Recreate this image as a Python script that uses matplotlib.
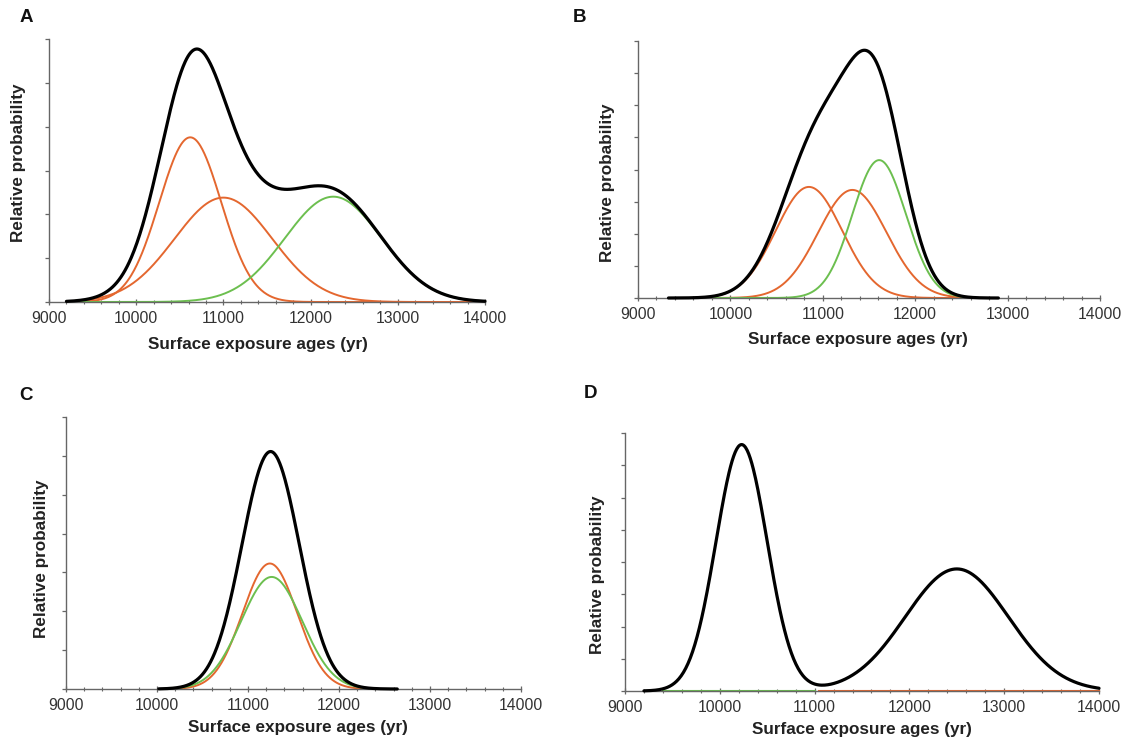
import numpy as np
import matplotlib.pyplot as plt
from matplotlib.ticker import MultipleLocator

plt.rcParams['font.family'] = ['Liberation Sans', 'DejaVu Sans']

# Exposure ages (yr) and 1-sigma errors
a_orange_age = [10620, 11000]
a_orange_err = [355, 560]
a_green_age = [12260]
a_green_err = [555]

b_orange_age = [10850, 11320]
b_orange_err = [360, 370]
b_green_age = [11610]
b_green_err = [290]

c_orange_age = [11240]
c_orange_err = [300]
c_green_age = [11260]
c_green_err = [336]

d_black_age = [10230, 12500]
d_black_err = [270, 545]
d_green_span = [9400, 11000]
d_orange_span = [11050, 14000]

# x ranges over which the curves are drawn
black_span = {'A': [9200, 14000], 'B': [9330, 12900], 'C': [10020, 12640], 'D': [9200, 14000]}
comp_span = {'A': [9300, 14000], 'B': [9800, 12600], 'C': [10150, 12300]}

# height of the black peak as a fraction of the y axis, and number of y tick intervals
peak_frac = {'A': 0.962, 'B': 0.964, 'C': 0.873, 'D': 0.955}
n_yint = {'A': 6, 'B': 8, 'C': 7, 'D': 8}

ORANGE = '#E4672F'
GREEN = '#6CBF4F'
AXC = '#666666'

W, H = 1136, 748
# axes boxes in pixels: left, top, right, bottom
box = {'A': (49, 39, 485, 302), 'B': (638, 41, 1100, 298),
       'C': (66, 417, 521, 689), 'D': (625, 433, 1099, 691)}
letter_xy = {'A': (26, 17), 'B': (580, 18), 'C': (26, 395), 'D': (591, 393)}
ylab_xy = {'A': (-0.071, 0.53), 'B': (-0.067, 0.45), 'C': (-0.053, 0.48), 'D': (-0.059, 0.45)}
xlab_xy = {'A': (0.48, -0.16), 'B': (0.476, -0.163), 'C': (0.51, -0.143), 'D': (0.50, -0.151)}


def gauss(x, mu, s):
    return np.exp(-0.5 * ((x - mu) / s) ** 2) / (s * np.sqrt(2 * np.pi))


def pdfs(x, ages, errs):
    return [gauss(x, m, s) for m, s in zip(ages, errs)]


fig = plt.figure(figsize=(W / 100, H / 100), dpi=100)

panels = {
    'A': (a_orange_age, a_orange_err, a_green_age, a_green_err),
    'B': (b_orange_age, b_orange_err, b_green_age, b_green_err),
    'C': (c_orange_age, c_orange_err, c_green_age, c_green_err),
    'D': None,
}

for key, data in panels.items():
    l, t, r, b = box[key]
    ax = fig.add_axes([l / W, 1 - b / H, (r - l) / W, (b - t) / H])

    xb = np.linspace(*black_span[key], 600)
    if data is not None:
        oa, oe, ga, ge = data
        xc = np.linspace(*comp_span[key], 600)
        for y in pdfs(xc, oa, oe):
            ax.plot(xc, y, color=ORANGE, lw=1.4, clip_on=False, zorder=2)
        for y in pdfs(xc, ga, ge):
            ax.plot(xc, y, color=GREEN, lw=1.4, clip_on=False, zorder=2)
        total = np.sum(pdfs(xb, oa + ga, oe + ge), axis=0)
    else:
        # in D the component curves lie flat on the baseline
        ax.plot(d_green_span, [0, 0], color=GREEN, lw=1.5, clip_on=False, zorder=2)
        ax.plot(d_orange_span, [0, 0], color=ORANGE, lw=1.5, clip_on=False, zorder=2)
        total = np.sum(pdfs(xb, d_black_age, d_black_err), axis=0)

    ax.plot(xb, total, color='black', lw=2.3, clip_on=False, zorder=3,
            solid_capstyle='round')

    top = total.max() / peak_frac[key]
    ax.set_ylim(0, top)
    ax.set_yticks(np.linspace(0, top, n_yint[key] + 1))
    ax.set_yticklabels([])
    ax.set_xlim(9000, 14000)
    ax.set_xticks(range(9000, 14001, 1000))
    ax.xaxis.set_minor_locator(MultipleLocator(200))

    for s in ['top', 'right']:
        ax.spines[s].set_visible(False)
    for s in ['left', 'bottom']:
        ax.spines[s].set_color(AXC)
        ax.spines[s].set_linewidth(1.0)
    ax.tick_params(axis='y', direction='out', length=3, width=0.9, color=AXC)
    ax.tick_params(axis='x', which='major', direction='inout', length=5, width=0.9,
                   color=AXC, labelsize=11.3, labelcolor='#333333', pad=4)
    ax.tick_params(axis='x', which='minor', direction='inout', length=3, width=0.8, color=AXC)

    ax.set_xlabel('Surface exposure ages (yr)', fontsize=12.3, fontweight='bold', color='#222222')
    ax.set_ylabel('Relative probability', fontsize=12.3, fontweight='bold', color='#222222')
    ax.xaxis.set_label_coords(*xlab_xy[key])
    ax.xaxis.label.set_va('center')
    ax.yaxis.set_label_coords(*ylab_xy[key])
    ax.yaxis.label.set_va('center')

    lx, ly = letter_xy[key]
    fig.text(lx / W, 1 - ly / H, key, fontsize=13.5, fontweight='bold',
             ha='center', va='center', color='#111111')

fig.savefig('out.png', dpi=100)
